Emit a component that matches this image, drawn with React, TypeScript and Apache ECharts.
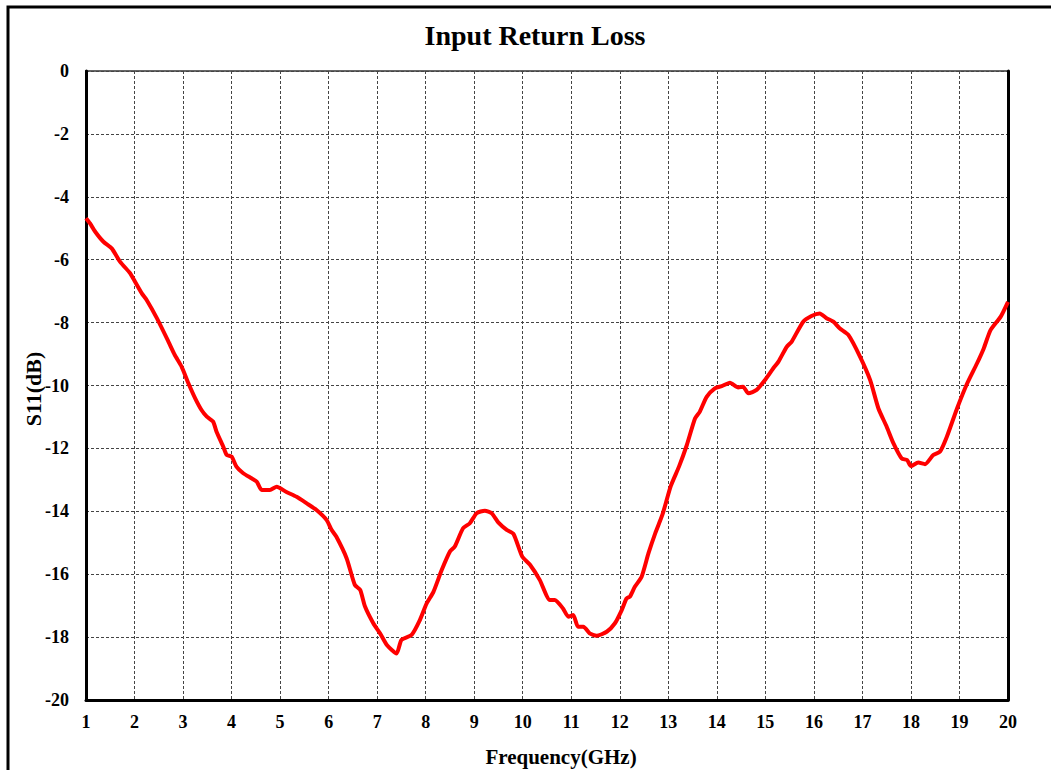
import React, { useEffect, useRef } from "react";
import * as echarts from "echarts";

const freqGHz = [
  1.0, 1.08, 1.19, 1.36, 1.53, 1.7, 1.91, 1.97, 2.15, 2.25, 2.46, 2.7, 2.83, 2.97, 3.11, 3.25, 3.38, 3.49, 3.62, 3.69,
  3.83, 3.9, 4.0, 4.1, 4.24, 4.41, 4.52, 4.62, 4.79, 4.93, 5.12, 5.34, 5.55, 5.75, 5.96, 6.06, 6.16, 6.37, 6.54, 6.65,
  6.75, 6.92, 7.06, 7.2, 7.4, 7.5, 7.71, 7.88, 8.02, 8.16, 8.33, 8.5, 8.6, 8.77, 8.91, 9.05, 9.22, 9.36, 9.5, 9.67,
  9.81, 9.99, 10.15, 10.35, 10.56, 10.66, 10.83, 10.94, 11.04, 11.14, 11.25, 11.38, 11.52, 11.73, 11.9, 12.04, 12.14,
  12.21, 12.31, 12.45, 12.59, 12.73, 12.88, 13.05, 13.22, 13.38, 13.55, 13.65, 13.79, 13.96, 14.1, 14.27, 14.44, 14.54,
  14.65, 14.82, 14.99, 15.16, 15.27, 15.44, 15.54, 15.78, 15.95, 16.12, 16.26, 16.4, 16.53, 16.71, 16.95, 17.16, 17.33,
  17.5, 17.64, 17.81, 17.92, 18.0, 18.15, 18.29, 18.46, 18.6, 18.74, 18.95, 19.16, 19.36, 19.5, 19.64, 19.85, 20.0,
];

const s11dB = [
  -4.68, -4.84, -5.11, -5.43, -5.64, -6.06, -6.43, -6.59, -7.07, -7.28, -7.86, -8.61, -9.03, -9.4, -9.93, -10.41, -10.78,
  -10.99, -11.15, -11.47, -11.95, -12.21, -12.26, -12.58, -12.79, -12.95, -13.06, -13.32, -13.32, -13.22, -13.38, -13.54,
  -13.75, -13.96, -14.28, -14.59, -14.81, -15.49, -16.34, -16.5, -17.03, -17.56, -17.88, -18.25, -18.52, -18.09, -17.93,
  -17.46, -16.93, -16.56, -15.87, -15.28, -15.12, -14.54, -14.38, -14.06, -13.98, -14.06, -14.36, -14.59, -14.72, -15.44,
  -15.7, -16.18, -16.82, -16.82, -17.09, -17.35, -17.3, -17.67, -17.67, -17.88, -17.96, -17.83, -17.56, -17.14, -16.77,
  -16.71, -16.4, -16.08, -15.34, -14.7, -14.1, -13.2, -12.58, -11.9, -11.05, -10.83, -10.36, -10.09, -10.02, -9.91,
  -10.06, -10.04, -10.25, -10.14, -9.83, -9.46, -9.24, -8.77, -8.61, -7.97, -7.79, -7.71, -7.86, -7.97, -8.18, -8.39,
  -9.08, -9.83, -10.73, -11.31, -11.84, -12.32, -12.37, -12.56, -12.45, -12.5, -12.21, -12.1, -11.63, -10.73, -9.93,
  -9.3, -8.82, -8.24, -7.81, -7.34,
];

const titleText = "Input Return Loss";
const xAxisName = "Frequency(GHz)";
const yAxisName = "S11(dB)";
const xRange = [1, 20];
const yRange = [-20, 0];

const FONT = '"Liberation Serif", "Times New Roman", serif';

export default function App() {
  const ref = useRef<HTMLDivElement>(null);
  useEffect(() => {
    document.body.style.margin = "0";
    const chart = echarts.init(ref.current!, null, { renderer: "svg" });
    const data = freqGHz.map((f, i) => [f, s11dB[i]]);
    const grid = { left: 86, top: 71, right: 43, bottom: 70 };
    const splitLine = { show: true, lineStyle: { color: "#444", width: 1, type: [3, 2] as any } };
    chart.setOption({
      animation: false,
      backgroundColor: "#fff",
      grid: { ...grid, show: true, borderColor: "#666", borderWidth: 2, backgroundColor: "transparent" },
      xAxis: {
        type: "value",
        min: xRange[0],
        max: xRange[1],
        interval: 1,
        axisLine: { show: true, onZero: false, lineStyle: { color: "#000", width: 3 } },
        axisTick: { show: false },
        axisLabel: { color: "#000", fontFamily: FONT, fontWeight: "bold", fontSize: 18, margin: 13 },
        splitLine,
      },
      yAxis: [
        {
          type: "value",
          min: yRange[0],
          max: yRange[1],
          interval: 2,
          axisLine: { show: true, onZero: false, lineStyle: { color: "#000", width: 3 } },
          axisTick: { show: false },
          axisLabel: { color: "#000", fontFamily: FONT, fontWeight: "bold", fontSize: 18, margin: 17 },
          splitLine,
        },
        {
          type: "value",
          position: "right",
          min: yRange[0],
          max: yRange[1],
          interval: 2,
          axisLine: { show: true, onZero: false, lineStyle: { color: "#000", width: 3 } },
          axisTick: { show: false },
          axisLabel: { show: false },
          splitLine: { show: false },
        },
      ],
      series: [
        {
          type: "line",
          data,
          yAxisIndex: 0,
          showSymbol: false,
          smooth: 0.2,
          lineStyle: { color: "#ff0000", width: 4 },
        },
      ],
      graphic: [
        {
          type: "rect",
          shape: { x: 8, y: 7, width: 1070, height: 790 },
          style: { fill: "none", stroke: "#000", lineWidth: 3 },
          z: 100,
        },
        {
          type: "text",
          x: 535,
          y: 35,
          style: {
            text: titleText,
            fill: "#000",
            font: `bold 28px ${FONT}`,
            textAlign: "center",
            textVerticalAlign: "middle",
          },
        },
        {
          type: "text",
          x: 561,
          y: 757,
          style: {
            text: xAxisName,
            fill: "#000",
            font: `bold 21px ${FONT}`,
            textAlign: "center",
            textVerticalAlign: "middle",
          },
        },
        {
          type: "text",
          x: 33,
          y: 389,
          rotation: Math.PI / 2,
          style: {
            text: yAxisName,
            fill: "#000",
            font: `bold 22px ${FONT}`,
            textAlign: "center",
            textVerticalAlign: "middle",
          },
        },
      ],
    });
    return () => chart.dispose();
  }, []);
  return <div ref={ref} style={{ width: 1051, height: 770 }} />;
}
